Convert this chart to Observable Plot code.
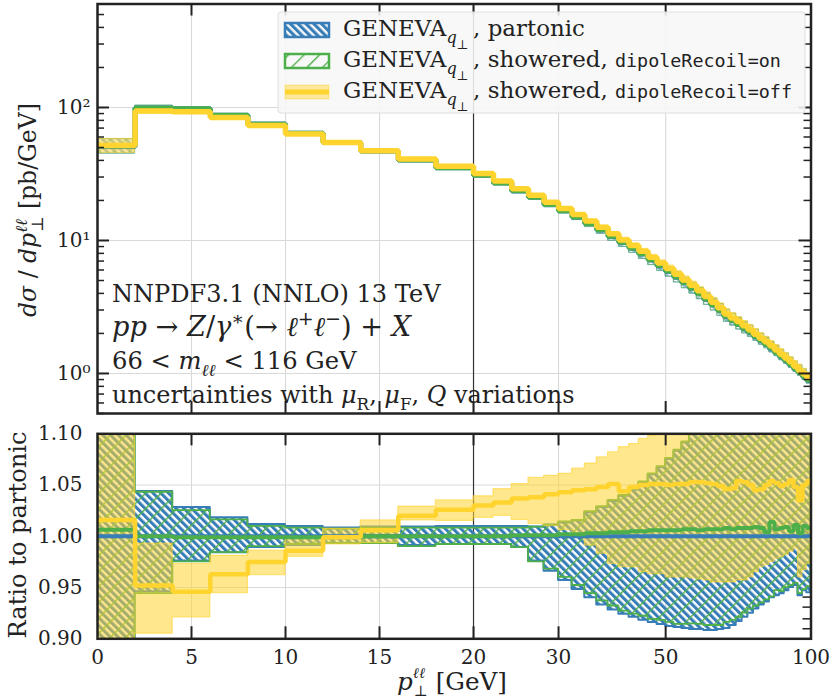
<!DOCTYPE html>
<html>
<head>
<meta charset="utf-8">
<script src="https://cdn.jsdelivr.net/npm/d3@7"></script>
<script src="https://cdn.jsdelivr.net/npm/@observablehq/plot@0.6"></script>
<style>
  html, body { margin: 0; padding: 0; background: #fff; }
  #wrap { position: relative; width: 832px; height: 699px; overflow: hidden; background: #fff; }
  #wrap > svg { position: absolute; left: 0; }
</style>
</head>
<body>
<div id="wrap"></div>
<script>
// ---------------- data ----------------
const binEdges = [0,2,4,6,8,10,12,14,16,18,20,22,24,26,28,30,32,34,36,38,40,42,44,46,48,50,
  52,54,56,58,60,62,64,66,68,70,72,74,76,78,80,82,84,86,88,90,92,94,96,98,100];

// partonic central value, pb/GeV
const partonic = [51, 99, 98, 87.5, 75, 64, 54.5, 47, 40.2, 35.3,
  30.9, 27.1, 23.6, 21.1, 18.6, 16.7, 15.0, 13.4, 12.0, 10.7, 9.66, 8.75, 7.9, 7.12, 6.44,
  5.85, 5.3, 4.8, 4.37, 3.97, 3.6, 3.27, 2.97, 2.68, 2.5, 2.33, 2.17, 2.03, 1.89, 1.76,
  1.65, 1.53, 1.43, 1.33, 1.245, 1.16, 1.08, 1.015, 0.945, 0.885];

// ratios to partonic
const partonicLo = [0.88, 0.946, 0.976, 0.984, 0.989, 0.991, 0.993, 0.993, 0.991, 0.992,
  0.992, 0.992, 0.989, 0.976, 0.966, 0.957, 0.948, 0.940, 0.933, 0.928, 0.924, 0.921, 0.918, 0.916, 0.914,
  0.912, 0.911, 0.910, 0.909, 0.909, 0.908, 0.908, 0.909, 0.910, 0.913, 0.917, 0.921, 0.925, 0.929, 0.933,
  0.936, 0.940, 0.942, 0.944, 0.947, 0.950, 0.952, 0.942, 0.947, 0.945];
const partonicHi = [1.13, 1.0437, 1.028, 1.018, 1.0115, 1.0096, 1.008, 1.009, 1.009, 1.0095,
  1.0095, 1.0095, 1.0095, 1.009, 1.011, 1.013, 1.015, 1.023, 1.028, 1.034, 1.039, 1.045, 1.052, 1.060, 1.067,
  1.075, 1.083, 1.091, 1.099, 1.105, 1.110, 1.115, 1.119, 1.122, 1.124, 1.126, 1.127, 1.128, 1.129, 1.129,
  1.130, 1.130, 1.131, 1.131, 1.132, 1.132, 1.133, 1.133, 1.134, 1.134];

const showeredOn = [1.0065, 1.000, 0.999, 0.999, 0.999, 0.999, 0.999, 1.000, 1.000, 1.000,
  1.000, 1.000, 1.001, 1.001, 1.001, 1.002, 1.002, 1.003, 1.003, 1.004, 1.004, 1.005, 1.005, 1.006, 1.006,
  1.006, 1.006, 1.007, 1.007, 1.006, 1.007, 1.007, 1.007, 1.008, 1.007, 1.008, 1.008, 1.008, 1.009, 1.008,
  1.004, 1.014, 1.007, 1.008, 1.009, 1.005, 1.011, 1.003, 1.010, 1.008];
const showeredOnLo = [0.885, 0.944, 0.975, 0.984, 0.990, 0.992, 0.993, 0.993, 0.990, 0.992,
  0.992, 0.992, 0.989, 0.975, 0.968, 0.960, 0.952, 0.944, 0.937, 0.932, 0.927, 0.924, 0.922, 0.919, 0.918,
  0.916, 0.914, 0.914, 0.9146, 0.914, 0.913, 0.913, 0.913, 0.916, 0.918, 0.921, 0.925, 0.929, 0.932, 0.935,
  0.938, 0.941, 0.947, 0.946, 0.950, 0.952, 0.954, 0.944, 0.948, 0.951];
const showeredOnHi = [1.135, 1.043, 1.025, 1.016, 1.0096, 1.008, 1.007, 1.008, 1.008, 1.008,
  1.008, 1.008, 1.008, 1.009, 1.011, 1.014, 1.0154, 1.024, 1.029, 1.035, 1.040, 1.046, 1.053, 1.061, 1.068,
  1.076, 1.084, 1.092, 1.100, 1.106, 1.111, 1.116, 1.120, 1.123, 1.125, 1.127, 1.128, 1.129, 1.130, 1.130,
  1.131, 1.131, 1.132, 1.132, 1.133, 1.133, 1.134, 1.134, 1.135, 1.135];

const showeredOff = [1.016, 0.952, 0.946, 0.963, 0.975, 0.986, 0.999, 1.006, 1.020, 1.026,
  1.030, 1.033, 1.037, 1.038, 1.041, 1.043, 1.045, 1.046, 1.048, 1.051, 1.044, 1.048, 1.050, 1.051, 1.051,
  1.050, 1.051, 1.051, 1.053, 1.053, 1.052, 1.051, 1.049, 1.046, 1.047, 1.054, 1.053, 1.050, 1.045, 1.046,
  1.050, 1.054, 1.052, 1.049, 1.051, 1.055, 1.048, 1.035, 1.050, 1.054];
const showeredOffLo = [0.89, 0.905, 0.921, 0.9446, 0.962, 0.980, 0.992, 0.9933, 1.0155, 1.015,
  1.018, 1.020, 1.016, 1.012, 1.010, 1.006, 1.003, 0.991, 0.983, 0.973, 0.970, 0.970, 0.965, 0.963, 0.963,
  0.960, 0.960, 0.960, 0.959, 0.958, 0.957, 0.955, 0.955, 0.955, 0.955, 0.957, 0.957, 0.960, 0.965, 0.970,
  0.972, 0.975, 0.978, 0.980, 0.982, 0.985, 0.988, 0.960, 0.967, 0.973];
const showeredOffHi = [1.14, 0.993, 0.973, 0.981, 0.986, 0.9985, 1.0073, 1.0155, 1.029, 1.035,
  1.039, 1.046, 1.051, 1.057, 1.059, 1.061, 1.066, 1.071, 1.077, 1.082, 1.087, 1.090, 1.095, 1.098, 1.104,
  1.110, 1.115, 1.120, 1.124, 1.128, 1.131, 1.134, 1.136, 1.138, 1.140, 1.141, 1.142, 1.143, 1.144, 1.145,
  1.145, 1.146, 1.146, 1.147, 1.147, 1.148, 1.148, 1.149, 1.149, 1.150];

const xTickLabels = [0, 5, 10, 15, 20, 30, 50, 100];
const xInnerTicks = [5, 10, 15, 20, 30, 50];
const yTicksUpper = [1, 10, 100];
const yTicksLower = [0.90, 0.95, 1.00, 1.05, 1.10];
const yGridLower = [0.95, 1.00, 1.05];
const lowerRightTicks = [0.9098, 0.9195, 0.9309, 0.9407];

// ---------------- styling ----------------
const BLUE = "#377eb8", GREEN = "#4daf4a", YELLOW = "#ffd42f";
const INK = "#222", GRID = "#d9d9d9";
const SERIF = "DejaVu Serif", MONO = "DejaVu Sans Mono";
const W = 832;
const ML = 97, MR = 21.5;
const PW = W - ML - MR;

// x axis: linear 0..20, logarithmic 20..100
const X_SPLIT = 20, LOG_SPAN = 17.95;
const xt = p => p <= X_SPLIT ? p : X_SPLIT + LOG_SPAN * Math.log(p / X_SPLIT) / Math.log(5);
const XMAX = xt(100);

function stepPts(vals) {
  const pts = [];
  vals.forEach((v, i) => { pts.push({x: xt(binEdges[i]), y: v}); pts.push({x: xt(binEdges[i + 1]), y: v}); });
  return pts;
}
function bandPts(lo, hi, base) {
  const pts = [];
  lo.forEach((l, i) => {
    const b = base ? base[i] : 1;
    const r = {y1: l * b, y2: hi[i] * b};
    pts.push({x: xt(binEdges[i]), ...r}); pts.push({x: xt(binEdges[i + 1]), ...r});
  });
  return pts;
}
const mul = (a, b) => a.map((v, i) => v * b[i]);

function addPatterns(svg, sfx) {
  const defs = d3.select(svg).insert("defs", ":first-child");
  const pb = defs.append("pattern").attr("id", "hb" + sfx).attr("patternUnits", "userSpaceOnUse")
    .attr("width", 5.5).attr("height", 5.5).attr("patternTransform", "rotate(-45)");
  pb.append("rect").attr("width", 3.1).attr("height", 5.5).attr("fill", BLUE);
  const pg = defs.append("pattern").attr("id", "hg" + sfx).attr("patternUnits", "userSpaceOnUse")
    .attr("width", 11).attr("height", 11).attr("patternTransform", "rotate(45)");
  pg.append("rect").attr("width", 1.4).attr("height", 11).attr("fill", GREEN);
}

function frameTicks(innerH, yMajor, yMinor, rightExtra) {
  const marks = [
    Plot.ruleX(xInnerTicks.map(xt), {stroke: INK, strokeWidth: 2, insetBottom: innerH - 12}),
    Plot.ruleX(xInnerTicks.map(xt), {stroke: INK, strokeWidth: 2, insetTop: innerH - 12})
  ];
  if (yMajor) {
    marks.push(Plot.ruleY(yMajor, {stroke: INK, strokeWidth: 2, insetRight: PW - 12}));
    marks.push(Plot.ruleY(yMajor, {stroke: INK, strokeWidth: 2, insetLeft: PW - 12}));
  }
  if (yMinor) {
    marks.push(Plot.ruleY(yMinor, {stroke: INK, strokeWidth: 1.5, insetRight: PW - 7}));
    marks.push(Plot.ruleY(yMinor, {stroke: INK, strokeWidth: 1.5, insetLeft: PW - 7}));
  }
  if (rightExtra) marks.push(Plot.ruleY(rightExtra, {stroke: INK, strokeWidth: 1.5, insetLeft: PW - 8}));
  return marks;
}

const wrap = document.getElementById("wrap");

// ---------------- upper panel ----------------
const SUP = {0: "⁰", 1: "¹", 2: "²"};
const upperMinor = [];
for (const dec of [0.1, 1, 10, 100]) for (let k = 2; k <= 9; k++) {
  const v = k * dec; if (v >= 0.5 && v <= 600) upperMinor.push(v);
}
const U_H = 420, U_MT = 3.5, U_MB = 7;
const upperOn = mul(partonic, showeredOn), upperOff = mul(partonic, showeredOff);
const upper = Plot.plot({
  width: W, height: U_H,
  marginLeft: ML, marginRight: MR, marginTop: U_MT, marginBottom: U_MB,
  style: {fontFamily: SERIF, fontSize: "20px", color: INK, background: "transparent", overflow: "visible"},
  x: {domain: [0, XMAX], axis: null},
  y: {type: "log", domain: [0.5, 600], ticks: yTicksUpper, tickFormat: d => "10" + SUP[Math.round(Math.log10(d))],
      tickSize: 0, tickPadding: 7, label: null},
  marks: [
    Plot.ruleX([5, 10, 15, 30, 50].map(xt), {stroke: GRID, strokeWidth: 1.1}),
    Plot.ruleY(yTicksUpper, {stroke: GRID, strokeWidth: 1.1}),
    Plot.ruleX([xt(20)], {stroke: "#333", strokeWidth: 1.2}),
    Plot.areaY(bandPts(partonicLo, partonicHi, partonic), {x: "x", y1: "y1", y2: "y2", fill: "url(#hbU)", stroke: BLUE, strokeWidth: 1, opacity: 0.55, clip: true}),
    Plot.areaY(bandPts(showeredOnLo, showeredOnHi, partonic), {x: "x", y1: "y1", y2: "y2", fill: "url(#hgU)", stroke: GREEN, strokeWidth: 1, opacity: 0.55, clip: true}),
    Plot.areaY(bandPts(showeredOffLo, showeredOffHi, partonic), {x: "x", y1: "y1", y2: "y2", fill: YELLOW, fillOpacity: 0.5, stroke: YELLOW, strokeOpacity: 0.5, strokeWidth: 1, clip: true}),
    Plot.line(stepPts(partonic), {x: "x", y: "y", stroke: BLUE, strokeWidth: 5, strokeLinejoin: "miter", clip: true}),
    Plot.line(stepPts(upperOn), {x: "x", y: "y", stroke: GREEN, strokeWidth: 5, strokeLinejoin: "miter", clip: true}),
    Plot.line(stepPts(upperOff), {x: "x", y: "y", stroke: YELLOW, strokeWidth: 5.5, strokeLinejoin: "miter", clip: true}),
    ...frameTicks(U_H - U_MT - U_MB, yTicksUpper, upperMinor),
    Plot.frame({stroke: INK, strokeWidth: 2.5})
  ]
});
addPatterns(upper, "U");
upper.style.top = "0px";
wrap.appendChild(upper);

// ---------------- lower panel ----------------
const L_TOP = 420, L_H = 279, L_MT = 13.3, L_MB = 60.7;
const ones = partonic.map((v, i) => v / partonic[i]);
const lower = Plot.plot({
  width: W, height: L_H,
  marginLeft: ML, marginRight: MR, marginTop: L_MT, marginBottom: L_MB,
  style: {fontFamily: SERIF, fontSize: "20px", color: INK, background: "transparent", overflow: "visible"},
  x: {domain: [0, XMAX], ticks: xTickLabels.map(xt),
      tickFormat: u => String(xTickLabels.find(p => Math.abs(xt(p) - u) < 1e-6)),
      tickSize: 0, tickPadding: 11, label: null},
  y: {domain: [0.9, 1.1], ticks: yTicksLower, tickFormat: d => d.toFixed(2), tickSize: 0, tickPadding: 15, label: null},
  marks: [
    Plot.ruleX([5, 10, 15, 30, 50].map(xt), {stroke: GRID, strokeWidth: 1.1}),
    Plot.ruleY(yGridLower, {stroke: GRID, strokeWidth: 1.1}),
    Plot.ruleX([xt(20)], {stroke: "#333", strokeWidth: 1.2}),
    Plot.areaY(bandPts(partonicLo, partonicHi), {x: "x", y1: "y1", y2: "y2", fill: "url(#hbL)", stroke: BLUE, strokeWidth: 2, clip: true}),
    Plot.areaY(bandPts(showeredOnLo, showeredOnHi), {x: "x", y1: "y1", y2: "y2", fill: "url(#hgL)", stroke: GREEN, strokeWidth: 1.8, clip: true}),
    Plot.areaY(bandPts(showeredOffLo, showeredOffHi), {x: "x", y1: "y1", y2: "y2", fill: YELLOW, fillOpacity: 0.55, stroke: YELLOW, strokeOpacity: 0.6, strokeWidth: 1.2, clip: true}),
    Plot.line(stepPts(ones), {x: "x", y: "y", stroke: BLUE, strokeWidth: 4, strokeLinejoin: "miter", clip: true}),
    Plot.line(stepPts(showeredOn), {x: "x", y: "y", stroke: GREEN, strokeWidth: 4, strokeLinejoin: "miter", clip: true}),
    Plot.line(stepPts(showeredOff), {x: "x", y: "y", stroke: YELLOW, strokeWidth: 4.5, strokeLinejoin: "miter", clip: true}),
    ...frameTicks(L_H - L_MT - L_MB, null, null, lowerRightTicks),
    Plot.frame({stroke: INK, strokeWidth: 2.5})
  ]
});
addPatterns(lower, "L");
lower.style.top = L_TOP + "px";
wrap.appendChild(lower);

// ---------------- overlay: legend, annotations, axis titles ----------------
const ov = d3.select(wrap).append("svg").attr("width", W).attr("height", 699)
  .style("position", "absolute").style("left", "0px").style("top", "0px")
  .attr("font-family", SERIF);
addPatterns(ov.node(), "G");

function rich(parent, segs, fs, anchor, monoScale) {
  const t = parent.append("text").attr("font-size", fs).attr("text-anchor", anchor || "start").attr("fill", INK);
  let cur = 0;
  segs.forEach(s => {
    const shift = (s.shift || 0) * fs;
    const ts = t.append("tspan").text(s.t);
    if (Math.abs(shift - cur) > 1e-6) ts.attr("dy", shift - cur);
    cur = shift;
    if (s.scale) ts.attr("font-size", fs * s.scale);
    if (s.it) ts.attr("font-style", "italic");
    if (s.mono) ts.attr("font-family", MONO).attr("font-size", fs * (monoScale || 0.87));
    if (s.dx) ts.attr("dx", s.dx * fs);
  });
  return t;
}
function fitted(parent, segs, target, anchor) {
  const fs0 = 18;
  const t0 = rich(parent, segs, fs0, anchor);
  const w = t0.node().getBBox().width;
  t0.remove();
  const fs = fs0 * target / w;
  return {node: rich(parent, segs, fs, anchor), fs};
}
const SUB = 0.28, SUPS = -0.4;

// legend
const lg = ov.append("g");
lg.append("rect").attr("x", 278).attr("y", 12).attr("width", 527).attr("height", 101).attr("rx", 3)
  .attr("fill", "#f7f7f7").attr("fill-opacity", 0.88).attr("stroke", "#dedede").attr("stroke-width", 1);
const rowsY = [30, 61, 92];
lg.append("rect").attr("x", 285).attr("y", rowsY[0] - 7).attr("width", 44).attr("height", 14)
  .attr("fill", "url(#hbG)").attr("stroke", BLUE).attr("stroke-width", 2.5);
lg.append("rect").attr("x", 285).attr("y", rowsY[1] - 7).attr("width", 44).attr("height", 14)
  .attr("fill", "url(#hgG)").attr("stroke", GREEN).attr("stroke-width", 2.5);
lg.append("rect").attr("x", 285).attr("y", rowsY[2] - 7).attr("width", 44).attr("height", 14)
  .attr("fill", YELLOW).attr("fill-opacity", 0.45).attr("stroke", YELLOW).attr("stroke-opacity", 0.5);
lg.append("line").attr("x1", 285).attr("x2", 329).attr("y1", rowsY[2]).attr("y2", rowsY[2])
  .attr("stroke", YELLOW).attr("stroke-width", 5);

const geneva = [{t: "GENEVA"}, {t: "q", it: 1, shift: 0.3, scale: 0.7}, {t: "⊥", shift: 0.55, scale: 0.55}];
const legendRows = [
  [...geneva, {t: "\u2009, partonic"}],
  [...geneva, {t: "\u2009, showered, "}, {t: "dipoleRecoil=on", mono: 1}],
  [...geneva, {t: "\u2009, showered, "}, {t: "dipoleRecoil=off", mono: 1}]
];
const r1 = fitted(lg, legendRows[0], 585 - 343, "start");
r1.node.attr("x", 343).attr("y", rowsY[0] + 6);
function rowWidth(segs, ms) {
  const t = rich(lg, segs, r1.fs, "start", ms); const w = t.node().getBBox().width; t.remove(); return w;
}
const wA = rowWidth(legendRows[2], 1), wB = rowWidth(legendRows[2], 0.5);
const monoPart = 2 * (wA - wB), serifPart = wA - monoPart;
const ms = Math.max(0.5, Math.min(1.1, (792 - 343 - serifPart) / monoPart));
rich(lg, legendRows[1], r1.fs, "start", ms).attr("x", 343).attr("y", rowsY[1] + 6);
rich(lg, legendRows[2], r1.fs, "start", ms).attr("x", 343).attr("y", rowsY[2] + 6);

// annotation block
const ann = ov.append("g");
const annLines = [
  {segs: [{t: "NNPDF3.1 (NNLO) 13 TeV"}], y: 302, w: 330},
  {segs: [{t: "pp", it: 1}, {t: " → "}, {t: "Z", it: 1}, {t: "/"}, {t: "γ", it: 1}, {t: "∗", shift: SUPS, scale: 0.7},
          {t: "(→ "}, {t: "ℓ", it: 1}, {t: "+", shift: SUPS, scale: 0.7}, {t: "ℓ", it: 1}, {t: "−", shift: SUPS, scale: 0.7},
          {t: ") + "}, {t: "X", it: 1}], y: 336, w: 301},
  {segs: [{t: "66 < "}, {t: "m", it: 1}, {t: "ℓℓ", it: 1, shift: SUB, scale: 0.7}, {t: " < 116 GeV"}], y: 369, w: 246},
  {segs: [{t: "uncertainties with "}, {t: "μ", it: 1}, {t: "R", shift: SUB, scale: 0.7}, {t: ", "}, {t: "μ", it: 1},
          {t: "F", shift: SUB, scale: 0.7}, {t: ", "}, {t: "Q", it: 1}, {t: " variations"}], y: 403, w: 463}
];
annLines.forEach(l => fitted(ann, l.segs, l.w, "start").node.attr("x", 112).attr("y", l.y));

// axis titles
const gy1 = ov.append("g").attr("transform", "translate(36,210) rotate(-90)");
fitted(gy1, [{t: "dσ", it: 1}, {t: " / "}, {t: "dp", it: 1}, {t: "ℓℓ", it: 1, shift: SUPS, scale: 0.7},
             {t: "⊥", shift: 0.3, scale: 0.7, dx: -0.55}, {t: " [pb/GeV]"}], 214, "middle");
const gy2 = ov.append("g").attr("transform", "translate(26,535) rotate(-90)");
fitted(gy2, [{t: "Ratio to partonic"}], 207, "middle");
const gx = ov.append("g").attr("transform", "translate(452,690)");
fitted(gx, [{t: "p", it: 1}, {t: "ℓℓ", it: 1, shift: -0.5, scale: 0.6}, {t: "⊥", shift: 0.26, scale: 0.6, dx: -0.45},
            {t: "  [GeV]"}], 110, "middle");
</script>
</body>
</html>
